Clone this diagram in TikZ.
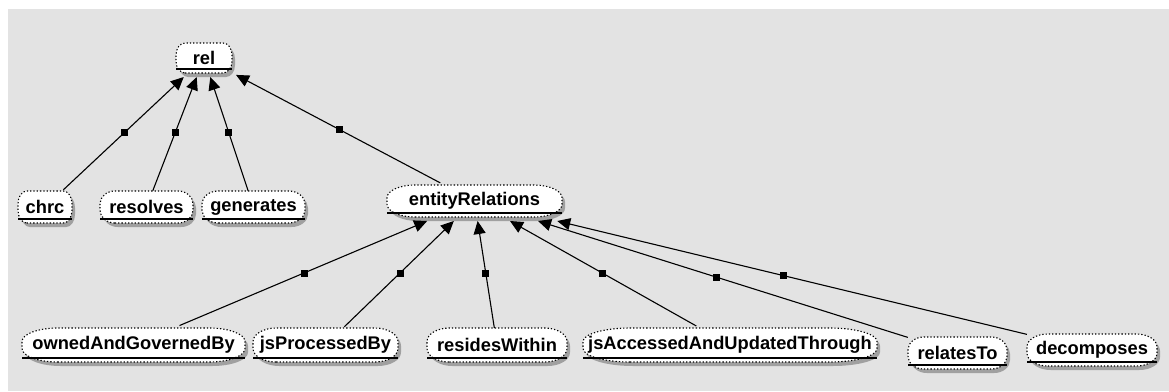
\documentclass[tikz,border=0pt]{standalone}
\usepackage{fontspec}
\setmainfont{Liberation Sans}
\usetikzlibrary{arrows.meta,calc}
\pgfdeclarelayer{boxes}
\pgfsetlayers{boxes,main}
\definecolor{canvasgrey}{RGB}{227,227,227}
\definecolor{shadowgrey}{RGB}{160,160,160}

\tikzset{
  lbl/.style={inner sep=0pt, outer sep=4pt, minimum height=32pt,
              font=\fontsize{18.3}{20}\selectfont\bfseries},
  edge/.style={draw=black, line width=1.1pt,
               -{Triangle[length=13pt,width=12pt]}, shorten <=-4pt},
  midsq/.style={fill=black, inner sep=0pt, minimum size=7pt},
  boxline/.style={draw=black, line width=1.1pt, dash pattern=on 1.3pt off 2pt},
  boxshadow/.style={fill=shadowgrey},
  underline/.style={draw=black, line width=1.3pt},
}

% pill outline centred at the origin: half width, half height
\newcommand\pillpath[2]{%
  (-#1+\rx,-#2) -- (#1-\rx,-#2)
  arc[start angle=-90,end angle=0,x radius=\rx pt,y radius=\ry pt]
  -- (#1,#2-\ry)
  arc[start angle=0,end angle=90,x radius=\rx pt,y radius=\ry pt]
  -- (-#1+\rx,#2)
  arc[start angle=90,end angle=180,x radius=\rx pt,y radius=\ry pt]
  -- (-#1,-#2+\ry)
  arc[start angle=180,end angle=270,x radius=\rx pt,y radius=\ry pt]
  -- cycle}

% class node: name, x, y (from top), width, height, label
\newcommand\ontnode[6]{%
  \node[lbl, minimum width=#4pt, minimum height=#5pt] (#1) at (#2,-#3) {\raisebox{-2pt}{#6}};
  \pgfmathsetmacro\hw{#4/2}%
  \pgfmathsetmacro\hh{#5/2}%
  \pgfmathsetmacro\rx{0.16*#4}%
  \pgfmathsetmacro\ry{0.4*#5}%
  \begin{pgfonlayer}{boxes}
    \path[boxshadow, shift={(#2+3,-#3-4)}] \pillpath{\hw}{\hh};
    \path[boxline, fill=white, shift={(#2,-#3)}] \pillpath{\hw}{\hh};
  \end{pgfonlayer}
  \draw[underline] ($(#1.center)+(-\hw pt,-\hh pt+4pt)$) -- ($(#1.center)+(\hw pt,-\hh pt+4pt)$);
}

\begin{document}
\begin{tikzpicture}[x=1pt,y=1pt]
  \useasboundingbox (0,0) rectangle (1169,-391);
  \begin{pgfonlayer}{boxes}
    \fill[white] (0,0) rectangle (1169,-391);
    \fill[canvasgrey] (8,-9) rectangle (1169,-391);
  \end{pgfonlayer}

  % classes
  \ontnode{rel}{204}{58}{56}{30}{rel}
  \ontnode{chrc}{45}{207}{54}{32}{chrc}
  \ontnode{resolves}{146.5}{207}{93}{32}{resolves}
  \ontnode{generates}{253.5}{207}{103}{32}{generates}
  \ontnode{entrel}{474.5}{201}{175}{32}{entityRelations}
  \ontnode{owned}{133.5}{345}{223}{34}{ownedAndGovernedBy}
  \ontnode{proc}{325.5}{345}{145}{34}{jsProcessedBy}
  \ontnode{resides}{497}{345}{140}{34}{residesWithin}
  \ontnode{access}{730}{345}{294}{34}{jsAccessedAndUpdatedThrough}
  \ontnode{relates}{957.5}{353}{99}{32}{relatesTo}
  \ontnode{decomp}{1092}{350}{130}{32}{decomposes}

  % subclass links with their midpoint handles
  \draw[edge] (chrc) -- (rel);
  \draw[edge] (resolves) -- (rel);
  \draw[edge] (generates) -- (rel);
  \draw[edge] (entrel) -- (rel);
  \draw[edge] (owned) -- (entrel);
  \draw[edge] (proc) -- (entrel);
  \draw[edge] (resides) -- (entrel);
  \draw[edge] (access) -- (entrel);
  \draw[edge] (relates) -- (entrel);
  \draw[edge] (decomp) -- (entrel);

  \node[midsq] (h1) at ($(chrc)!0.5!(rel)$) {};
  \node[midsq] (h2) at ($(resolves)!0.5!(rel)$) {};
  \node[midsq] (h3) at ($(generates)!0.5!(rel)$) {};
  \node[midsq] (h4) at ($(entrel)!0.5!(rel)$) {};
  \node[midsq] (h5) at ($(owned)!0.5!(entrel)$) {};
  \node[midsq] (h6) at ($(proc)!0.5!(entrel)$) {};
  \node[midsq] (h7) at ($(resides)!0.5!(entrel)$) {};
  \node[midsq] (h8) at ($(access)!0.5!(entrel)$) {};
  \node[midsq] (h9) at ($(relates)!0.5!(entrel)$) {};
  \node[midsq] (h10) at ($(decomp)!0.5!(entrel)$) {};
\end{tikzpicture}
\end{document}
